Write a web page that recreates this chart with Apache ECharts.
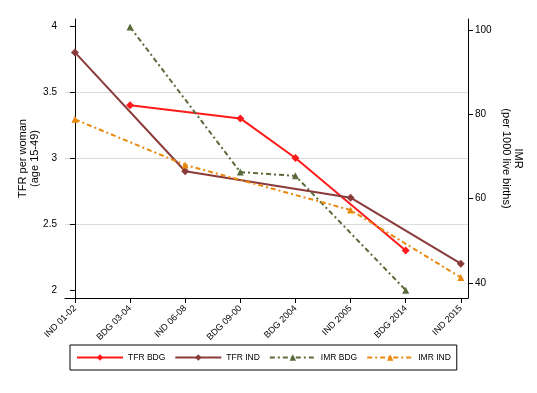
<!DOCTYPE html>
<html>
<head>
<meta charset="utf-8">
<script src="https://cdn.jsdelivr.net/npm/echarts@6/dist/echarts.min.js"></script>
<style>
html,body{margin:0;padding:0;background:#fff;}
#chart{width:537px;height:393px;}
</style>
</head>
<body>
<div id="chart"></div>
<script>
var categories = ['IND 01-02','BDG 03-04','IND 06-08','BDG 09-00','BDG 2004','IND 2005','BDG 2014','IND 2015'];
var tfrBDG = [null, 3.4, null, 3.3, 3.0, null, 2.3, null];
var tfrIND = [3.8, null, 2.9, null, null, 2.7, null, 2.2];
var imrBDG = [null, 100.7, null, 66.3, 65.4, null, 38.3, null];
var imrIND = [78.8, null, 68.0, null, null, 57.3, null, 41.3];
var leftTicks = [2, 2.5, 3, 3.5, 4];
var rightTicks = [40, 60, 80, 100];

function pts(arr){
  var out = [];
  arr.forEach(function(v,i){ if(v!==null) out.push([i,v]); });
  return out;
}
var xIdx = categories.map(function(c,i){return i;});
var FONT = 'Liberation Sans, Arial, sans-serif';

var chart = echarts.init(document.getElementById('chart'), null, {renderer:'canvas'});
var dash = [5,3,2,3];
chart.setOption({
  animation:false,
  backgroundColor:'#ffffff',
  textStyle:{fontFamily:FONT},
  grid:{left:65,right:69,top:19,bottom:95,containLabel:false},
  legend:{
    left:70, top:345,
    orient:'horizontal',
    borderColor:'#000', borderWidth:1,
    padding:[8,6,8,6],
    itemWidth:46, itemHeight:8, itemGap:9,
    formatter:function(name){ return (name==='IMR IND' ? '{b|' : '{a|') + name + '}'; },
    textStyle:{fontFamily:FONT,fontSize:8.5,color:'#000',
      rich:{a:{width:44,fontSize:8.5,fontFamily:FONT,color:'#000'},b:{width:42,fontSize:8.5,fontFamily:FONT,color:'#000'}}},
    data:['TFR BDG','TFR IND','IMR BDG','IMR IND']
  },
  xAxis:{
    type:'value', min:-0.18, max:7.13,
    axisLine:{show:true,onZero:false,lineStyle:{color:'#000',width:1}},
    axisTick:{show:true,inside:false,length:5,lineStyle:{color:'#000'},customValues:xIdx},
    axisLabel:{customValues:xIdx,rotate:45,margin:9,fontSize:9,color:'#000',fontFamily:FONT,
      formatter:function(v){return categories[Math.round(v)]||'';}},
    splitLine:{show:false}
  },
  yAxis:[{
    type:'value', min:1.94, max:4.053, position:'left',
    name:'TFR per woman\n(age 15-49)', nameLocation:'middle', nameGap:24, nameMoveOverlap:false,
    nameTextStyle:{fontSize:11,color:'#000',fontFamily:FONT,lineHeight:12},
    axisLine:{show:true,lineStyle:{color:'#000',width:1}},
    axisTick:{show:true,inside:false,length:5,lineStyle:{color:'#000'},customValues:leftTicks},
    axisLabel:{customValues:leftTicks,margin:8,fontSize:10,color:'#000',fontFamily:FONT},
    splitLine:{show:true,showMinLine:false,showMaxLine:false,lineStyle:{color:'#dcdcdc',width:1}}
  },{
    type:'value', min:36.44, max:102.6, position:'right',
    name:'IMR\n(per 1000 live births)', nameLocation:'middle', nameGap:32, nameRotate:-90, nameMoveOverlap:false,
    nameTextStyle:{fontSize:11,color:'#000',fontFamily:FONT,lineHeight:12},
    axisLine:{show:true,lineStyle:{color:'#000',width:1}},
    axisTick:{show:true,inside:false,length:5,lineStyle:{color:'#000'},customValues:rightTicks},
    axisLabel:{customValues:rightTicks,margin:7,fontSize:10,color:'#000',fontFamily:FONT},
    splitLine:{show:false}
  }],
  series:[
    {name:'TFR BDG',type:'line',yAxisIndex:0,data:pts(tfrBDG),symbol:'diamond',symbolSize:8,
      itemStyle:{color:'#ff1a1a'},lineStyle:{color:'#ff1a1a',width:2}},
    {name:'TFR IND',type:'line',yAxisIndex:0,data:pts(tfrIND),symbol:'diamond',symbolSize:8,
      itemStyle:{color:'#8b3a3a'},lineStyle:{color:'#8b3a3a',width:2}},
    {name:'IMR BDG',type:'line',yAxisIndex:1,data:pts(imrBDG),symbol:'triangle',symbolSize:7,
      itemStyle:{color:'#5a6a3a'},lineStyle:{color:'#5a6a3a',width:2,type:dash}},
    {name:'IMR IND',type:'line',yAxisIndex:1,data:pts(imrIND),symbol:'triangle',symbolSize:7,
      itemStyle:{color:'#e8890c'},lineStyle:{color:'#e8890c',width:2,type:dash}}
  ]
});
</script>
</body>
</html>
